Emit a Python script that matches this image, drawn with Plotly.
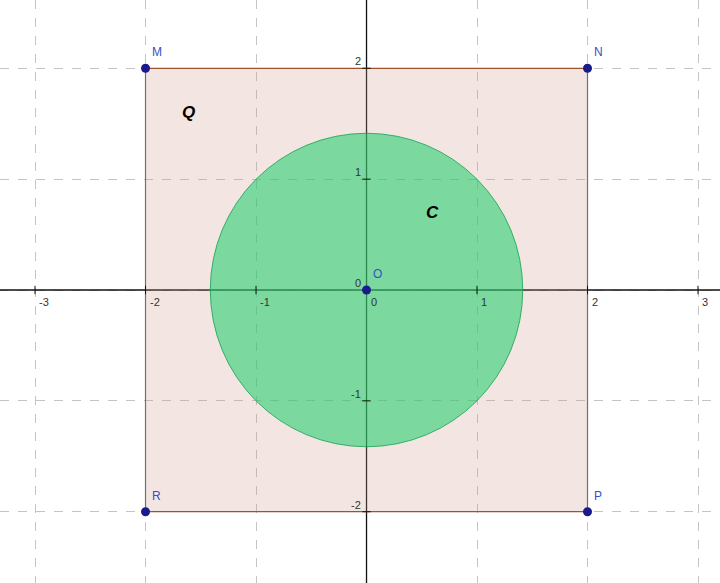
import plotly.graph_objects as go

# ---- data ----
point_names = ["M", "N", "P", "R", "O"]
point_x = [-2, 2, 2, -2, 0]
point_y = [2, 2, -2, -2, 0]
circle_center = (0, 0)
circle_radius = 1.414
x_ticks = [-3, -2, -1, 0, 1, 2, 3]
y_ticks = [-2, -1, 1, 2]
region_labels = ["Q", "C"]
region_x = [-1.615, 0.60]
region_y = [1.60, 0.70]

X_RANGE = [-3.317, 3.199]
Y_RANGE = [-2.643, 2.616]

fig = go.Figure()

shapes = []
# axes
shapes.append(dict(type="line", x0=X_RANGE[0], x1=X_RANGE[1], y0=0, y1=0,
                   line=dict(color="#111111", width=1.3), layer="between"))
shapes.append(dict(type="line", x0=0, x1=0, y0=Y_RANGE[0], y1=Y_RANGE[1],
                   line=dict(color="#111111", width=1.3), layer="between"))
# square fill
sx = point_x[:4]
sy = point_y[:4]
path = "M {} {} L {} {} L {} {} L {} {} Z".format(sx[0], sy[0], sx[1], sy[1], sx[2], sy[2], sx[3], sy[3])
shapes.append(dict(type="path", path=path, fillcolor="rgba(207,155,139,0.25)",
                   line=dict(width=0), layer="between"))
# square edges: top/bottom brown, sides gray
edge_colors = ["#a0522d", "#707070", "#a0522d", "#707070"]
for i in range(4):
    j = (i + 1) % 4
    shapes.append(dict(type="line", x0=sx[i], y0=sy[i], x1=sx[j], y1=sy[j],
                       line=dict(color=edge_colors[i], width=1.2), layer="between"))
# circle
cx, cy = circle_center
shapes.append(dict(type="circle", x0=cx - circle_radius, x1=cx + circle_radius,
                   y0=cy - circle_radius, y1=cy + circle_radius,
                   fillcolor="rgba(23,206,106,0.55)",
                   line=dict(color="rgba(20,160,80,0.8)", width=1), layer="between"))
fig.update_layout(shapes=shapes)

# tick marks via markers
fig.add_trace(go.Scatter(x=[t for t in x_ticks if t != 0], y=[0] * (len(x_ticks) - 1),
                         mode="markers", marker=dict(symbol="line-ns", size=6,
                                                     line=dict(color="#111111", width=1)),
                         hoverinfo="skip", showlegend=False))
fig.add_trace(go.Scatter(x=[0] * len(y_ticks), y=y_ticks,
                         mode="markers", marker=dict(symbol="line-ew", size=6,
                                                     line=dict(color="#111111", width=1)),
                         hoverinfo="skip", showlegend=False))

# points
fig.add_trace(go.Scatter(x=point_x, y=point_y, mode="markers",
                         marker=dict(color="#1a1a8c", size=9),
                         hoverinfo="skip", showlegend=False))

annotations = []
font_tick = dict(family="Liberation Sans, Arial", size=11, color="#333333")
for t in x_ticks:
    annotations.append(dict(x=t, y=0, text=str(t), showarrow=False, xanchor="left",
                            yanchor="middle", xshift=2, yshift=-12, font=font_tick))
for t in y_ticks:
    annotations.append(dict(x=0, y=t, text=str(t), showarrow=False, xanchor="right",
                            yanchor="middle", xshift=-4, yshift=7, font=font_tick))
annotations.append(dict(x=0, y=0, text="0", showarrow=False, xanchor="right",
                        yanchor="middle", xshift=-4, yshift=7, font=font_tick))
for n, x, y in zip(point_names, point_x, point_y):
    annotations.append(dict(x=x, y=y, text=n, showarrow=False, xanchor="left",
                            yanchor="middle", xshift=4, yshift=16,
                            font=dict(family="Liberation Sans, Arial", size=12, color="#3550c8")))
for n, x, y in zip(region_labels, region_x, region_y):
    annotations.append(dict(x=x, y=y, text="<b><i>" + n + "</i></b>", showarrow=False,
                            xanchor="center", yanchor="middle",
                            font=dict(family="Liberation Sans, Arial", size=17, color="#000000")))

fig.update_layout(
    width=720, height=583,
    margin=dict(l=0, r=0, t=0, b=0),
    paper_bgcolor="white", plot_bgcolor="white",
    annotations=annotations,
    xaxis=dict(range=X_RANGE, dtick=1, tick0=0, showgrid=True, gridcolor="#c4c4c4",
               griddash="dash", gridwidth=1, zeroline=False, showticklabels=False,
               showline=False, ticks=""),
    yaxis=dict(range=Y_RANGE, dtick=1, tick0=0, showgrid=True, gridcolor="#c4c4c4",
               griddash="dash", gridwidth=1, zeroline=False, showticklabels=False,
               showline=False, ticks=""),
    showlegend=False,
)

fig.write_html("out.html", config={"displayModeBar": False},
               post_script="document.body.style.margin='0';document.body.style.overflow='hidden';")
